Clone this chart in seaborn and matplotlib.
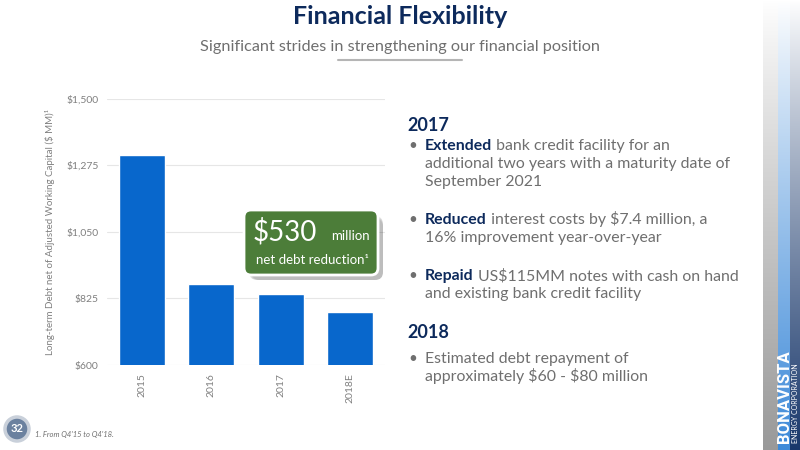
import numpy as np
import matplotlib
matplotlib.use('Agg')
import matplotlib.pyplot as plt
import seaborn as sns
from matplotlib.patches import FancyBboxPatch, Circle

years = ['2015', '2016', '2017', '2018E']
debt = [1310, 875, 840, 780]
tick_vals = [600, 825, 1050, 1275, 1500]
tick_labels = ['$600', '$825', '$1,050', '$1,275', '$1,500']

NAVY = '#0d2a5c'
GREY = '#6f6f6f'
BLUE = '#0867cc'

sns.set_theme(style='white')
plt.rcParams['font.family'] = ['Lato', 'DejaVu Sans']
plt.rcParams['text.parse_math'] = False

fig = plt.figure(figsize=(8, 4.5), dpi=100)
fig.patch.set_facecolor('white')

# bar chart
ax = fig.add_axes([107 / 800, 1 - 365 / 450, 278 / 800, 266 / 450])
df = {'year': years, 'debt': debt}
sns.barplot(x='year', y='debt', data=df, color=BLUE, width=0.667, ax=ax,
            saturation=1, zorder=3)
ax.set_ylim(600, 1500)
ax.set_xlim(-0.5, 3.5)
ax.set_yticks(tick_vals)
ax.set_yticklabels(tick_labels)
ax.yaxis.grid(True, color='#e6e6e6', lw=0.8, zorder=0)
for s in ax.spines.values():
    s.set_visible(False)
ax.tick_params(axis='both', length=0, labelsize=7.5, labelcolor='#808080', pad=6)
ax.tick_params(axis='x', labelrotation=90, pad=6)
ax.set_xlabel('')
ax.set_ylabel('Long-term Debt net of Adjusted Working Capital ($ MM)\u00b9',
              fontsize=7, color='#808080', labelpad=8)

# overlay in pixel coords
ov = fig.add_axes([0, 0, 1, 1], zorder=5)
ov.set_xlim(0, 800)
ov.set_ylim(450, 0)
ov.axis('off')
ov.patch.set_alpha(0)

ov.text(400, 17, 'Financial Flexibility', ha='center', va='center',
        fontsize=18, fontweight='bold', color=NAVY)
ov.text(400, 47, 'Significant strides in strengthening our financial position',
        ha='center', va='center', fontsize=11.7, color=GREY)
ov.plot([338, 462], [60, 60], color='#b5b5b5', lw=1.5)

# green callout
for i, a in enumerate([0.04, 0.06, 0.08, 0.10]):
    d = 10 - i * 2
    ov.add_patch(FancyBboxPatch((247 + d / 2, 214 + d / 2), 136 - d / 2, 66 - d / 2,
                                boxstyle='round,pad=0,rounding_size=8',
                                fc='black', ec='none', alpha=a))
ov.add_patch(FancyBboxPatch((244, 210), 134, 65,
                            boxstyle='round,pad=0,rounding_size=7',
                            fc='#4c7d39', ec='white', lw=2))
ov.text(253, 240, '$530', fontsize=20, color='white', va='baseline')
ov.text(331, 240, 'million', fontsize=9.5, color='white', va='baseline')
ov.text(256, 264, 'net debt reduction\u00b9', fontsize=9.5, color='white', va='baseline')

renderer = fig.canvas.get_renderer()


def rich(x, y, parts, size=11.4):
    for txt, color, weight in parts:
        t = ov.text(x, y, txt, fontsize=size, color=color, fontweight=weight,
                    va='baseline')
        x += t.get_window_extent(renderer).width


BX, TX = 408, 425
ov.text(407, 131, '2017', fontsize=13, fontweight='bold', color=NAVY, va='baseline')

lines = [
    (150, [('Extended', NAVY, 'bold'), (' bank credit facility for an', GREY, 'normal')], True),
    (168, [('additional two years with a maturity date of', GREY, 'normal')], False),
    (186, [('September 2021', GREY, 'normal')], False),
    (224, [('Reduced', NAVY, 'bold'), (' interest costs by $7.4 million, a', GREY, 'normal')], True),
    (242, [('16% improvement year-over-year', GREY, 'normal')], False),
    (280, [('Repaid', NAVY, 'bold'), (' US$115MM notes with cash on hand', GREY, 'normal')], True),
    (298, [('and existing bank credit facility', GREY, 'normal')], False),
]
for y, parts, bullet in lines:
    if bullet:
        ov.text(BX, y, '•', fontsize=11, color=GREY, va='baseline')
    rich(TX, y, parts)

ov.text(407, 338, '2018', fontsize=13, fontweight='bold', color=NAVY, va='baseline')
ov.text(BX, 363, '•', fontsize=11, color=GREY, va='baseline')
rich(TX, 363, [('Estimated debt repayment of', GREY, 'normal')])
rich(TX, 381, [('approximately $60 - $80 million', GREY, 'normal')])

# slide number and footnote
ov.add_patch(Circle((17, 429), 12, fc='#6b819f', ec='#c9d0da', lw=2.5))
ov.text(17, 429, '32', ha='center', va='center', fontsize=8, fontweight='bold',
        color='white')
ov.text(35, 434, "1. From Q4'15 to Q4'18.", fontsize=5.5, style='italic',
        color='#707070', va='center')

# logo strip on the right
lg = fig.add_axes([763 / 800, 0, 37 / 800, 1], zorder=6)
lg.axis('off')
h = 450
t = np.linspace(0, 1, h)[:, None]
cols = [(np.array([0.60, 0.60, 0.60]), 15), (np.array([0.24, 0.54, 0.85]), 12),
        (np.array([0.10, 0.22, 0.42]), 10)]
img = []
for c, w in cols:
    fade = np.clip(t ** 0.9, 0, 1)[:, :, None]
    band = np.ones((h, w, 3)) * (1 - fade) + c * fade
    img.append(band)
img = np.concatenate(img, axis=1)
lg.imshow(img, aspect='auto', extent=[0, 37, 450, 0])
lg.set_xlim(0, 37)
lg.set_ylim(450, 0)
lg.text(21, 443, 'BONAVISTA', rotation=90, fontsize=12, fontweight='bold',
        color='white', ha='center', va='bottom', family=['Roboto', 'DejaVu Sans'],
        fontstretch='condensed')
lg.text(32, 443, 'ENERGY CORPORATION', rotation=90, fontsize=5, color='white',
        ha='center', va='bottom')

fig.savefig('out.png', dpi=100)
